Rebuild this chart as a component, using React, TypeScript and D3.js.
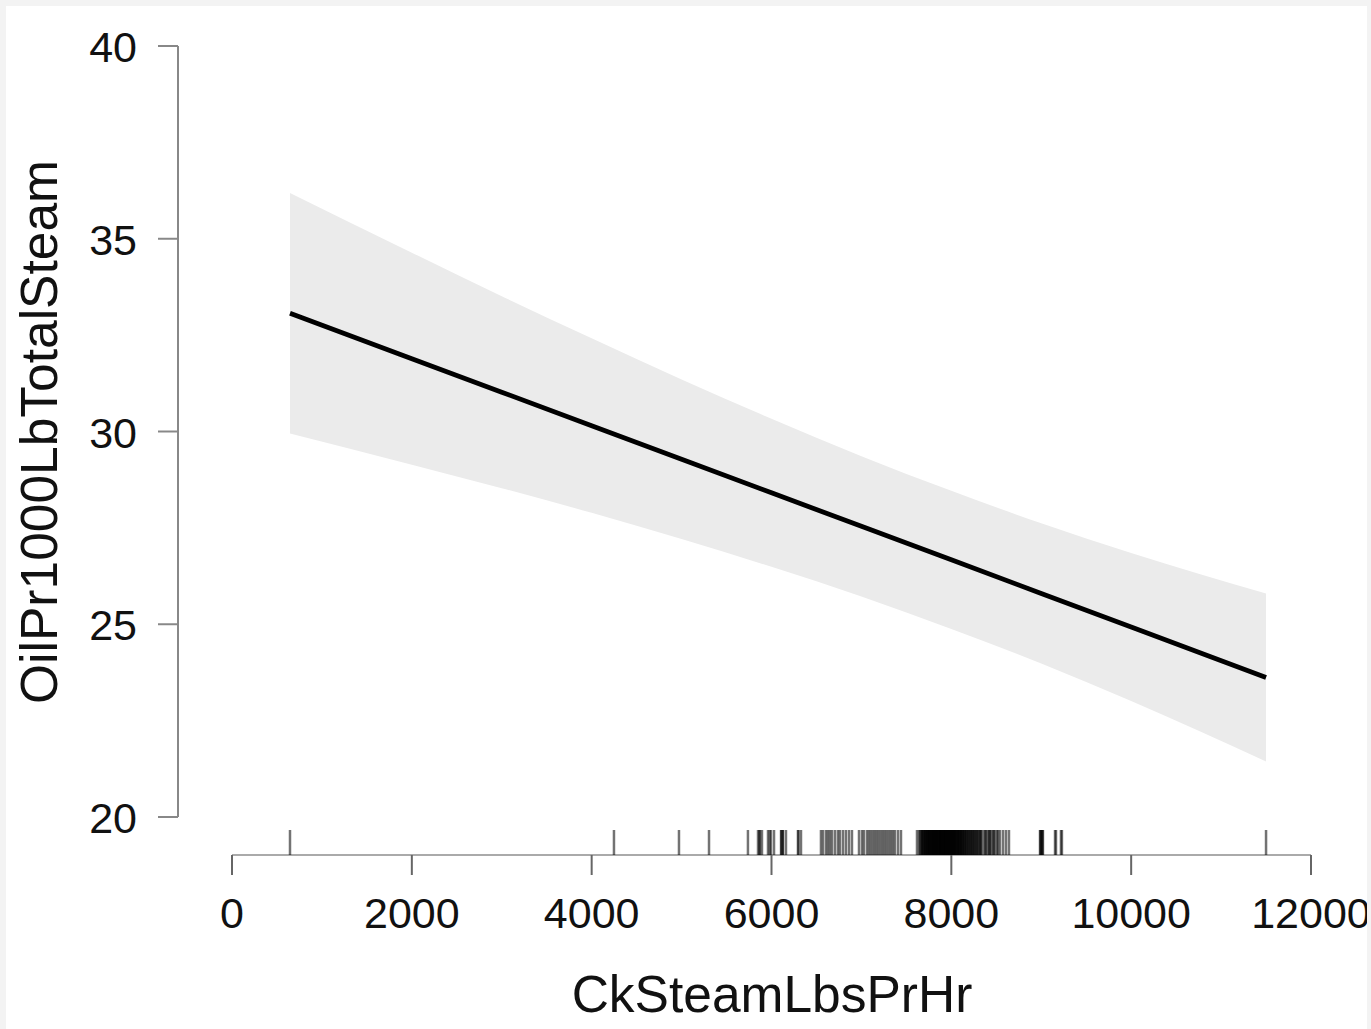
import React from "react";
import * as d3 from "d3";

const xTicks = [0, 2000, 4000, 6000, 8000, 10000, 12000];
const yTicks = [20, 25, 30, 35, 40];

const fitX = [645, 2000, 3000, 4000, 5000, 6000, 7000, 8000, 9000, 10000, 11500];
const fitY = [33.07, 31.89, 31.02, 30.15, 29.28, 28.41, 27.54, 26.67, 25.8, 24.93, 23.62];
const bandUpper = [36.19, 34.64, 33.51, 32.42, 31.35, 30.33, 29.36, 28.46, 27.62, 26.85, 25.8];
const bandLower = [29.95, 29.14, 28.53, 27.89, 27.21, 26.49, 25.72, 24.88, 23.98, 23.01, 21.44];

const rugValues = [
  645, 4248, 4971, 5305, 5738, 5850, 5872, 5894, 5961, 5994, 6028, 6106, 6128, 6161, 6294, 6328,
  5865, 5980, 6110, 6125, 6300,
  6550, 6573, 6606, 6628, 6650, 6673, 6706, 6739, 6761, 6795, 6828, 6862, 6895,
  6973, 7006, 7028, 7062, 7084, 7106, 7129, 7151, 7173, 7195, 7218, 7240, 7262, 7284, 7307, 7329,
  7351, 7373, 7407, 7440, 7618, 7640, 7651, 7662,
  7672, 7681, 7690, 7702, 7710, 7715, 7724, 7733, 7740, 7748, 7755, 7763, 7770, 7778, 7785, 7792,
  7800, 7806, 7813, 7820, 7828, 7835, 7841, 7848, 7855, 7862, 7870, 7877, 7884, 7890, 7897, 7905,
  7912, 7918, 7925, 7933, 7940, 7947, 7953, 7960, 7968, 7975, 7982, 7990, 7996, 8003, 8010, 8018,
  8025, 8032, 8040, 8047, 8055, 8063, 8070, 8078, 8086, 8094, 8103, 8112, 8120, 8130, 8140, 8150,
  8161, 8172, 8184, 8196, 8208, 8221, 8233, 8246, 8259, 8272, 8286, 8300, 8314, 8328, 8340,
  7676, 7694, 7712, 7730, 7744, 7759, 7775, 7789, 7803, 7817, 7832, 7845, 7859, 7873, 7887, 7901,
  7915, 7929, 7943, 7957, 7971, 7985, 7999, 8013, 8027, 8041, 8058, 8074, 8090, 8107, 8125, 8145,
  8166, 8190, 8214, 8238, 8262, 8290, 8320,
  8364, 8386, 8408, 8430, 8441, 8464, 8486, 8508, 8541, 8575, 8608, 8641, 8380, 8420, 8470, 8520,
  8986, 8997, 9008, 9019, 8992, 9013, 9153, 9164, 9219, 9230, 11500,
];

const xLabel = "CkSteamLbsPrHr";
const yLabel = "OilPr1000LbTotalSteam";

export default function App() {
  const W = 1371;
  const H = 1029;
  const x = d3.scaleLinear().domain([0, 12000]).range([232, 1311]);
  const y = d3.scaleLinear().domain([20, 40]).range([817, 46]);

  const idx = d3.range(fitX.length);
  const area = d3
    .area<number>()
    .x((i) => x(fitX[i]))
    .y0((i) => y(bandLower[i]))
    .y1((i) => y(bandUpper[i]))
    .curve(d3.curveMonotoneX);
  const line = d3
    .line<number>()
    .x((i) => x(fitX[i]))
    .y((i) => y(fitY[i]));

  const font = "'Liberation Sans', Arial, Helvetica, sans-serif";
  const axisColor = "#888";
  const rugTop = 830;
  const axisY = 855;
  const axisX = 178;

  return (
    <svg
      width={W}
      height={H}
      style={{ position: "absolute", left: 0, top: 0, display: "block" }}
      fontFamily={font}
    >
      <defs>
        <clipPath id="panel">
          <rect x={6} y={6} width={1361} height={1023} />
        </clipPath>
      </defs>
      <rect x={0} y={0} width={W} height={H} fill="#f3f3f3" />
      <rect x={6} y={6} width={1361} height={1023} fill="#ffffff" />
      <g clipPath="url(#panel)">
        <path d={area(idx) || ""} fill="#ebebeb" />
        <path d={line(idx) || ""} fill="none" stroke="#000" strokeWidth={4.8} />

        {/* y axis */}
        <line x1={axisX} x2={axisX} y1={y(40)} y2={y(20)} stroke={axisColor} strokeWidth={2} />
        {yTicks.map((t) => (
          <g key={t}>
            <line x1={axisX - 20} x2={axisX} y1={y(t)} y2={y(t)} stroke={axisColor} strokeWidth={2} />
            <text x={137} y={y(t) + 16} textAnchor="end" fontSize={43} fill="#111">
              {t}
            </text>
          </g>
        ))}

        {/* x axis */}
        <line x1={x(0)} x2={x(12000)} y1={axisY} y2={axisY} stroke="#aaa" strokeWidth={2} />
        {xTicks.map((t) => (
          <g key={t}>
            <line x1={x(t)} x2={x(t)} y1={axisY} y2={axisY + 20} stroke="#666" strokeWidth={2} />
            <text x={x(t)} y={928} textAnchor="middle" fontSize={43} fill="#111">
              {t}
            </text>
          </g>
        ))}

        {/* rug */}
        {rugValues.map((v, i) => (
          <line
            key={i}
            x1={x(v)}
            x2={x(v)}
            y1={rugTop}
            y2={axisY}
            stroke="#000"
            strokeOpacity={0.55}
            strokeWidth={2.5}
          />
        ))}

        <text x={772} y={1012} textAnchor="middle" fontSize={51.5} fill="#111">
          {xLabel}
        </text>
        <text
          transform={`translate(57, 432) rotate(-90)`}
          textAnchor="middle"
          fontSize={51.5}
          fill="#111"
        >
          {yLabel}
        </text>
      </g>
    </svg>
  );
}
